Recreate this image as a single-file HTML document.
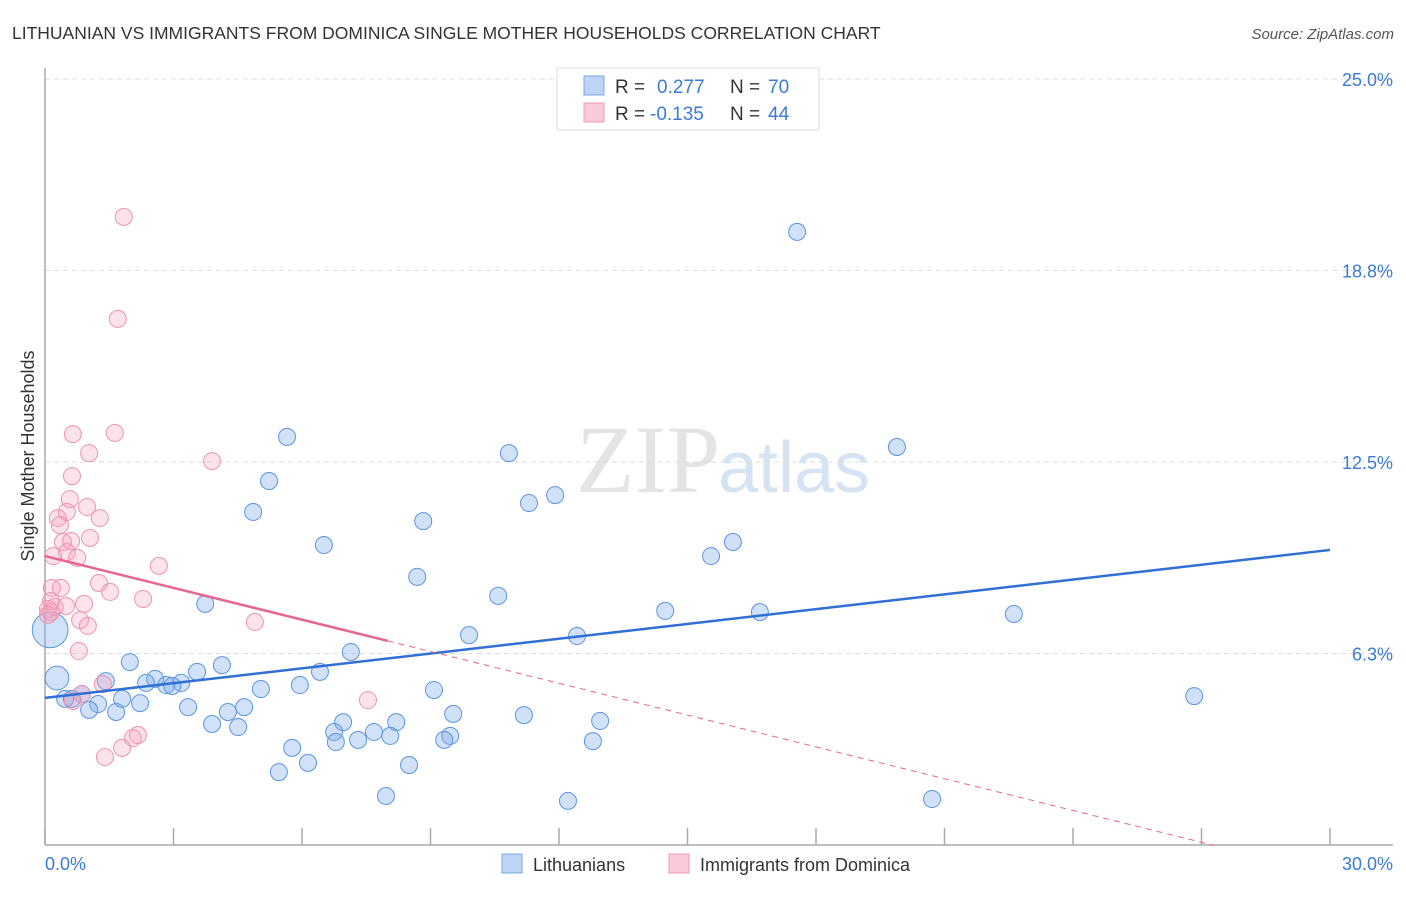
<!DOCTYPE html>
<html><head><meta charset="utf-8"><style>
body{margin:0;background:#fff;font-family:"Liberation Sans",sans-serif;}
svg text{font-family:"Liberation Sans",sans-serif;}
</style></head><body>
<svg id="c" width="1406" height="892" viewBox="0 0 1406 892">
<text x="12" y="39" font-size="17.5" fill="#333">LITHUANIAN VS IMMIGRANTS FROM DOMINICA SINGLE MOTHER HOUSEHOLDS CORRELATION CHART</text>
<text x="1394" y="39" font-size="15" fill="#555" font-style="italic" text-anchor="end">Source: ZipAtlas.com</text>
<text x="720" y="492" font-size="96" fill="#e4e4e4" text-anchor="end" font-family="Liberation Serif" style="font-family:'Liberation Serif',serif">ZIP</text>
<text x="718" y="492" font-size="72" fill="#d6e3f3">atlas</text>
<g id="grid"></g>
<g id="axes"></g>
<g id="marks"></g>
<text transform="translate(34,456) rotate(-90)" font-size="18" fill="#333" text-anchor="middle">Single Mother Households</text>
<text x="45" y="870" font-size="18" fill="#3a7bd5">0.0%</text>
<text x="1393" y="870" font-size="18" fill="#3a7bd5" text-anchor="end">30.0%</text>
<g>
<rect x="557" y="68" width="262" height="62" fill="#fff" stroke="#ddd"/>
<rect x="584" y="76" width="20" height="19" fill="#bcd5f5" stroke="#7aa8e8"/>
<rect x="584" y="103" width="20" height="19" fill="#fbcad8" stroke="#f09ab4"/>
<text x="615" y="93" font-size="19" fill="#333">R =</text><text x="657" y="93" font-size="19" fill="#3a7bd5">0.277</text>
<text x="730" y="93" font-size="19" fill="#333">N =</text><text x="768" y="93" font-size="19" fill="#3a7bd5">70</text>
<text x="615" y="120" font-size="19" fill="#333">R =</text><text x="650" y="120" font-size="19" fill="#3a7bd5">-0.135</text>
<text x="730" y="120" font-size="19" fill="#333">N =</text><text x="768" y="120" font-size="19" fill="#3a7bd5">44</text>
</g>
<g>
<rect x="502" y="854" width="20" height="19" fill="#bcd5f5" stroke="#7aa8e8"/>
<text x="533" y="871" font-size="18" fill="#333">Lithuanians</text>
<rect x="669" y="854" width="20" height="19" fill="#fbcad8" stroke="#f09ab4"/>
<text x="700" y="871" font-size="18" fill="#333">Immigrants from Dominica</text>
</g>
</svg>
<script>
const yTicks=[6.25,12.5,18.75,25];
const yTickLabels=["6.3%","12.5%","18.8%","25.0%"];
const xTicks=[0,3,6,9,12,15,18,21,24,27,30];
const blueX=[17.56,19.89,5.65,10.83,5.23,11.91,11.30,4.86,8.83,16.06,15.55,6.51,8.69,10.58,3.74,14.48,16.69,22.62,9.90,12.42,7.14,1.98,4.13,0.28,3.55,6.42,2.57,2.36,3.18,2.83,2.97,5.95,1.42,5.04,9.08,0.86,26.83,0.47,1.80,2.22,1.24,3.34,4.65,1.03,1.66,4.27,9.53,11.18,12.96,3.90,6.96,4.51,8.20,6.75,7.68,8.06,9.46,9.32,7.31,6.79,5.77,12.79,6.14,5.46,8.50,7.96,12.21,20.71,0.12,0.63];
const blueY=[20.01,12.99,13.32,12.79,11.88,11.42,11.16,10.87,10.57,9.89,9.43,9.79,8.75,8.13,7.87,7.64,7.60,7.54,6.85,6.82,6.30,5.97,5.87,5.45,5.65,5.65,5.42,5.29,5.29,5.22,5.19,5.22,5.35,5.09,5.06,4.93,4.86,4.77,4.77,4.63,4.60,4.50,4.50,4.41,4.34,4.34,4.28,4.24,4.05,3.95,4.01,3.85,4.01,3.69,3.69,3.56,3.56,3.43,3.43,3.36,3.17,3.39,2.68,2.38,2.61,1.60,1.44,1.50,7.02,4.77];
const blueSize=[1,1,1,1,1,1,1,1,1,1,1,1,1,1,1,1,1,1,1,1,1,1,1,1.4,1,1,1,1,1,1,1,1,1,1,1,1,1,1,1,1,1,1,1,1,1,1,1,1,1,1,1,1,1,1,1,1,1,1,1,1,1,1,1,1,1,1,1,1,2.1,1];
const pinkX=[1.84,1.70,0.65,1.63,1.03,3.90,0.63,0.58,0.98,0.30,1.28,0.51,0.35,0.42,1.05,0.61,0.51,0.19,0.75,2.66,1.26,0.16,0.37,1.52,2.29,0.14,0.91,0.07,0.23,0.49,0.82,1.00,4.90,0.79,7.54,1.35,0.86,0.65,2.17,2.05,1.80,1.40,0.14,0.07];
const pinkY=[20.50,17.17,13.41,13.45,12.79,12.53,12.04,11.29,11.03,10.67,10.67,10.87,10.44,9.89,10.02,9.92,9.56,9.43,9.37,9.11,8.55,8.39,8.39,8.26,8.03,7.96,7.87,7.70,7.77,7.80,7.34,7.15,7.28,6.33,4.73,5.25,4.93,4.70,3.59,3.49,3.17,2.87,7.60,7.51];
const blueTrend=[4.80,0.161];
const pinkTrend=[9.43,-0.346];
const pinkSolidEnd=8.0, pinkDashEnd=27.3;
const X0=45,X1=1330,Y0=845,YS=30.64;
const xs=v=>X0+v*(X1-X0)/30;
const ys=v=>Y0-v*YS;
const NS="http://www.w3.org/2000/svg";
function mk(tag,attrs,parent){const e=document.createElementNS(NS,tag);for(const k in attrs)e.setAttribute(k,attrs[k]);parent.appendChild(e);return e;}
const grid=document.getElementById('grid'),axes=document.getElementById('axes'),marks=document.getElementById('marks');
yTicks.forEach((t,i)=>{
  const g=mk('line',{x1:X0,x2:1393,y1:ys(t),y2:ys(t),stroke:'#ddd','stroke-dasharray':'5,4'},grid);
  
  
  const tx=mk('text',{x:1393,y:ys(t)+7,'font-size':18,fill:'#3a7bd5','text-anchor':'end'},grid);
  tx.textContent=yTickLabels[i];
  
  
});
const ya=mk('line',{x1:X0,x2:X0,y1:68,y2:Y0,stroke:'#aaa','stroke-width':1.5},axes);


const xa=mk('line',{x1:X0,x2:1393,y1:Y0,y2:Y0,stroke:'#aaa','stroke-width':1.5},axes);


xTicks.forEach(t=>{
  const l=mk('line',{x1:xs(t),x2:xs(t),y1:828,y2:Y0,stroke:'#aaa','stroke-width':1.5},axes);
  
  
});
blueX.forEach((v,i)=>{
  const c=mk('circle',{cx:xs(v),cy:ys(blueY[i]),r:8.5*blueSize[i],fill:'rgba(120,170,235,0.35)',stroke:'#5b95e0','stroke-width':1},marks);
  
  
});
pinkX.forEach((v,i)=>{
  const c=mk('circle',{cx:xs(v),cy:ys(pinkY[i]),r:8.5,fill:'rgba(245,160,185,0.3)',stroke:'#ee93b0','stroke-width':1},marks);
  
  
});
const bt=mk('line',{x1:xs(0),y1:ys(blueTrend[0]),x2:xs(30),y2:ys(blueTrend[0]+30*blueTrend[1]),stroke:'#2f6fd6','stroke-width':2.5},marks);


const pt=mk('line',{x1:xs(0),y1:ys(pinkTrend[0]),x2:xs(pinkSolidEnd),y2:ys(pinkTrend[0]+pinkSolidEnd*pinkTrend[1]),stroke:'#e8658f','stroke-width':2.5},marks);


const pd=mk('line',{x1:xs(pinkSolidEnd),y1:ys(pinkTrend[0]+pinkSolidEnd*pinkTrend[1]),x2:xs(pinkDashEnd),y2:ys(pinkTrend[0]+pinkDashEnd*pinkTrend[1]),stroke:'#e8658f','stroke-width':1,'stroke-dasharray':'6,5'},marks);


</script>
</body></html>
